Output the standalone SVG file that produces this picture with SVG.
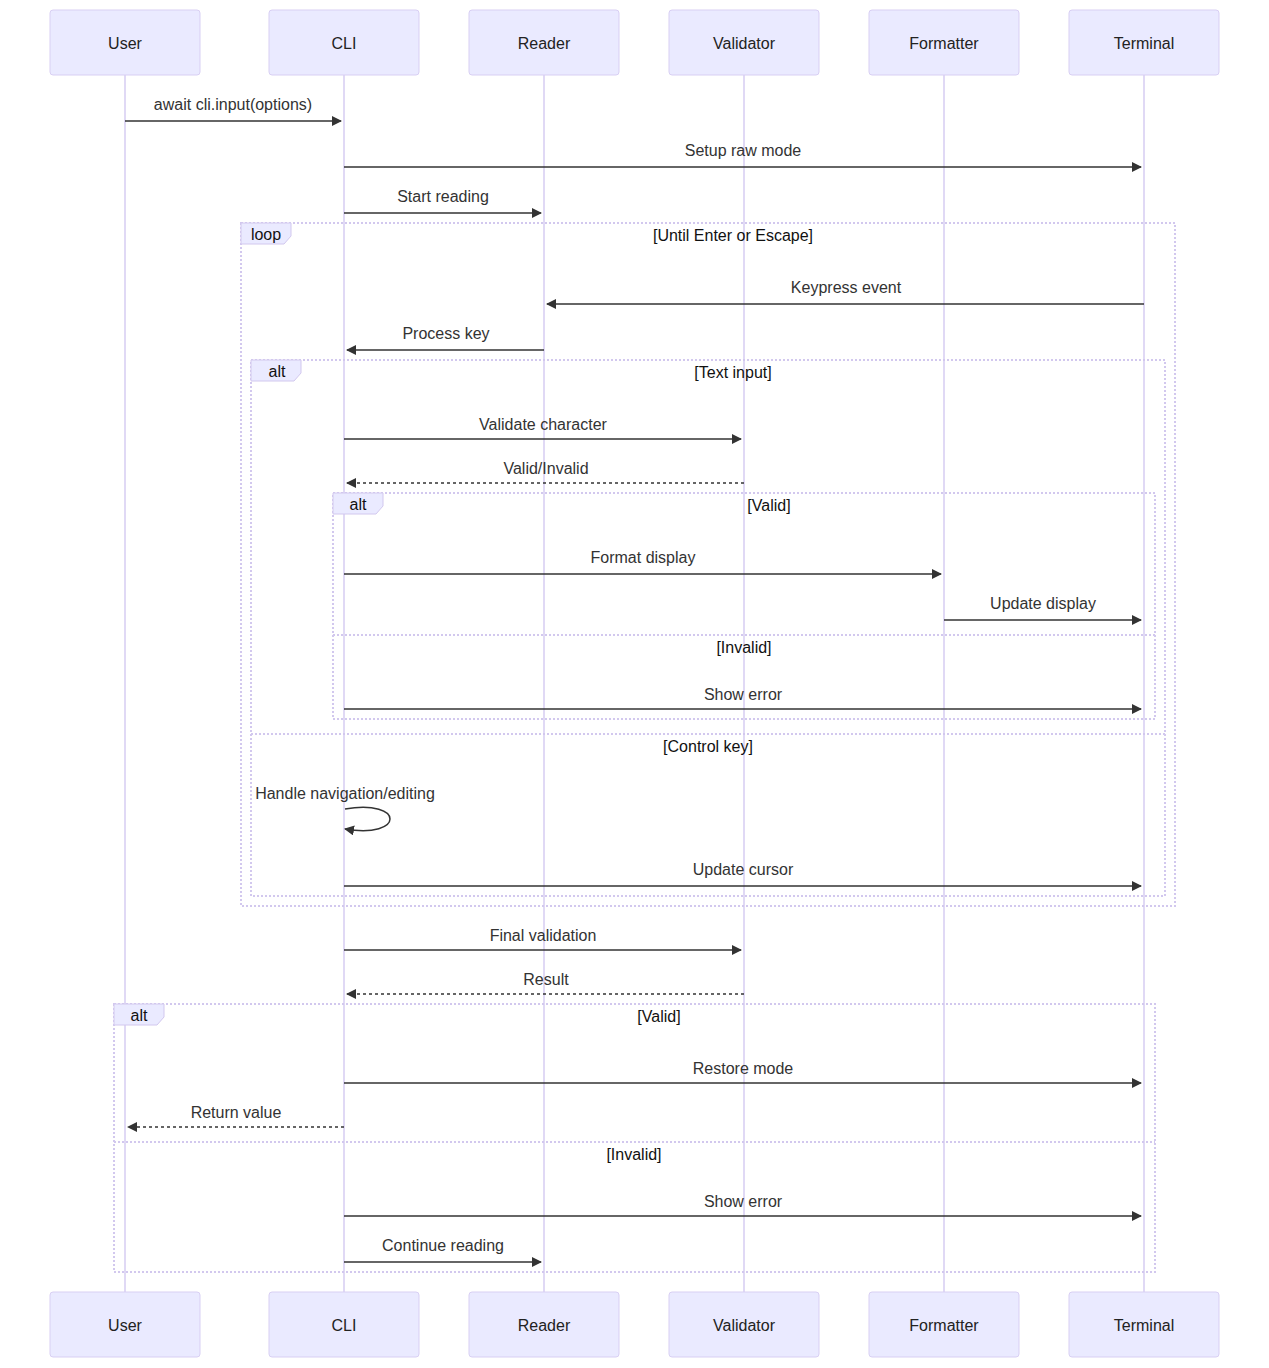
<svg xmlns="http://www.w3.org/2000/svg" width="1269" height="1368" viewBox="0 0 1269 1368">
<style>
  text { font-family: "Liberation Sans", Arial, sans-serif; font-size: 16px; }
  .actor { fill: #eaeaff; stroke: #d8cff3; stroke-width: 1; }
  .actor-text { fill: #222; text-anchor: middle; dominant-baseline: central; }
  .lifeline { stroke: #d6ccf2; stroke-width: 1.5; }
  .msg { stroke: #333; stroke-width: 1.5; fill: none; }
  .dash { stroke-dasharray: 3 3; }
  .msg-text { fill: #333; text-anchor: middle; }
  .frame { fill: none; stroke: #d2c8ee; stroke-width: 2; stroke-dasharray: 2 2; }
  .frame-label { fill: #eaeaff; stroke: #d2c8ee; stroke-width: 1; }
  .frame-text { fill: #111; text-anchor: middle; }
</style>
<defs>
  <marker id="arrowhead" markerUnits="userSpaceOnUse" markerWidth="12" markerHeight="12" refX="9" refY="5" orient="auto">
    <path d="M 0 0 L 10 5 L 0 10 z" fill="#333"/>
  </marker>
</defs>

<!-- lifelines -->
<g id="lifelines">
  <line class="lifeline" x1="125" y1="75" x2="125" y2="1292"/>
  <line class="lifeline" x1="344" y1="75" x2="344" y2="1292"/>
  <line class="lifeline" x1="544" y1="75" x2="544" y2="1292"/>
  <line class="lifeline" x1="744" y1="75" x2="744" y2="1292"/>
  <line class="lifeline" x1="944" y1="75" x2="944" y2="1292"/>
  <line class="lifeline" x1="1144" y1="75" x2="1144" y2="1292"/>
</g>

<!-- participants, top and bottom -->
<g id="user">
  <rect class="actor" x="50" y="10" width="150" height="65" rx="3"/>
  <text class="actor-text" x="125" y="43">User</text>
  <rect class="actor" x="50" y="1292" width="150" height="65" rx="3"/>
  <text class="actor-text" x="125" y="1325">User</text>
</g>
<g id="cli">
  <rect class="actor" x="269" y="10" width="150" height="65" rx="3"/>
  <text class="actor-text" x="344" y="43">CLI</text>
  <rect class="actor" x="269" y="1292" width="150" height="65" rx="3"/>
  <text class="actor-text" x="344" y="1325">CLI</text>
</g>
<g id="reader">
  <rect class="actor" x="469" y="10" width="150" height="65" rx="3"/>
  <text class="actor-text" x="544" y="43">Reader</text>
  <rect class="actor" x="469" y="1292" width="150" height="65" rx="3"/>
  <text class="actor-text" x="544" y="1325">Reader</text>
</g>
<g id="validator">
  <rect class="actor" x="669" y="10" width="150" height="65" rx="3"/>
  <text class="actor-text" x="744" y="43">Validator</text>
  <rect class="actor" x="669" y="1292" width="150" height="65" rx="3"/>
  <text class="actor-text" x="744" y="1325">Validator</text>
</g>
<g id="formatter">
  <rect class="actor" x="869" y="10" width="150" height="65" rx="3"/>
  <text class="actor-text" x="944" y="43">Formatter</text>
  <rect class="actor" x="869" y="1292" width="150" height="65" rx="3"/>
  <text class="actor-text" x="944" y="1325">Formatter</text>
</g>
<g id="terminal">
  <rect class="actor" x="1069" y="10" width="150" height="65" rx="3"/>
  <text class="actor-text" x="1144" y="43">Terminal</text>
  <rect class="actor" x="1069" y="1292" width="150" height="65" rx="3"/>
  <text class="actor-text" x="1144" y="1325">Terminal</text>
</g>

<!-- control frames -->
<g id="frames">
  <!-- loop -->
  <rect class="frame" x="241" y="223" width="934" height="683"/>
  <polygon class="frame-label" points="241,223 291,223 291,236 284,244 241,244"/>
  <text class="frame-text" x="266" y="240">loop</text>
  <text class="frame-text" x="733" y="241">[Until Enter or Escape]</text>

  <!-- outer alt: text input / control key -->
  <rect class="frame" x="251" y="360" width="914" height="536"/>
  <polygon class="frame-label" points="251,360 301,360 301,373 294,381 251,381"/>
  <text class="frame-text" x="277" y="377">alt</text>
  <text class="frame-text" x="733" y="378">[Text input]</text>
  <line class="frame" x1="251" y1="734" x2="1165" y2="734"/>
  <text class="frame-text" x="708" y="752">[Control key]</text>

  <!-- inner alt: valid / invalid -->
  <rect class="frame" x="333" y="493" width="822" height="226"/>
  <polygon class="frame-label" points="333,493 383,493 383,506 376,514 333,514"/>
  <text class="frame-text" x="358" y="510">alt</text>
  <text class="frame-text" x="769" y="511">[Valid]</text>
  <line class="frame" x1="333" y1="635" x2="1155" y2="635"/>
  <text class="frame-text" x="744" y="653">[Invalid]</text>

  <!-- final alt -->
  <rect class="frame" x="114" y="1004" width="1041" height="268"/>
  <polygon class="frame-label" points="114,1004 164,1004 164,1017 157,1025 114,1025"/>
  <text class="frame-text" x="139" y="1021">alt</text>
  <text class="frame-text" x="659" y="1022">[Valid]</text>
  <line class="frame" x1="114" y1="1142" x2="1155" y2="1142"/>
  <text class="frame-text" x="634" y="1160">[Invalid]</text>
</g>

<!-- messages -->
<g id="messages">
  <text class="msg-text" x="233" y="110">await cli.input(options)</text>
  <line class="msg" x1="125" y1="121" x2="341" y2="121" marker-end="url(#arrowhead)"/>

  <text class="msg-text" x="743" y="156">Setup raw mode</text>
  <line class="msg" x1="344" y1="167" x2="1141" y2="167" marker-end="url(#arrowhead)"/>

  <text class="msg-text" x="443" y="202">Start reading</text>
  <line class="msg" x1="344" y1="213" x2="541" y2="213" marker-end="url(#arrowhead)"/>

  <text class="msg-text" x="846" y="293">Keypress event</text>
  <line class="msg" x1="1144" y1="304" x2="547" y2="304" marker-end="url(#arrowhead)"/>

  <text class="msg-text" x="446" y="339">Process key</text>
  <line class="msg" x1="544" y1="350" x2="347" y2="350" marker-end="url(#arrowhead)"/>

  <text class="msg-text" x="543" y="430">Validate character</text>
  <line class="msg" x1="344" y1="439" x2="741" y2="439" marker-end="url(#arrowhead)"/>

  <text class="msg-text" x="546" y="474">Valid/Invalid</text>
  <line class="msg dash" x1="744" y1="483" x2="347" y2="483" marker-end="url(#arrowhead)"/>

  <text class="msg-text" x="643" y="563">Format display</text>
  <line class="msg" x1="344" y1="574" x2="941" y2="574" marker-end="url(#arrowhead)"/>

  <text class="msg-text" x="1043" y="609">Update display</text>
  <line class="msg" x1="944" y1="620" x2="1141" y2="620" marker-end="url(#arrowhead)"/>

  <text class="msg-text" x="743" y="700">Show error</text>
  <line class="msg" x1="344" y1="709" x2="1141" y2="709" marker-end="url(#arrowhead)"/>

  <text class="msg-text" x="345" y="799">Handle navigation/editing</text>
  <path class="msg" d="M 345 809 C 405 799 405 839 345 829" marker-end="url(#arrowhead)"/>

  <text class="msg-text" x="743" y="875">Update cursor</text>
  <line class="msg" x1="344" y1="886" x2="1141" y2="886" marker-end="url(#arrowhead)"/>

  <text class="msg-text" x="543" y="941">Final validation</text>
  <line class="msg" x1="344" y1="950" x2="741" y2="950" marker-end="url(#arrowhead)"/>

  <text class="msg-text" x="546" y="985">Result</text>
  <line class="msg dash" x1="744" y1="994" x2="347" y2="994" marker-end="url(#arrowhead)"/>

  <text class="msg-text" x="743" y="1074">Restore mode</text>
  <line class="msg" x1="344" y1="1083" x2="1141" y2="1083" marker-end="url(#arrowhead)"/>

  <text class="msg-text" x="236" y="1118">Return value</text>
  <line class="msg dash" x1="344" y1="1127" x2="128" y2="1127" marker-end="url(#arrowhead)"/>

  <text class="msg-text" x="743" y="1207">Show error</text>
  <line class="msg" x1="344" y1="1216" x2="1141" y2="1216" marker-end="url(#arrowhead)"/>

  <text class="msg-text" x="443" y="1251">Continue reading</text>
  <line class="msg" x1="344" y1="1262" x2="541" y2="1262" marker-end="url(#arrowhead)"/>
</g>
</svg>
